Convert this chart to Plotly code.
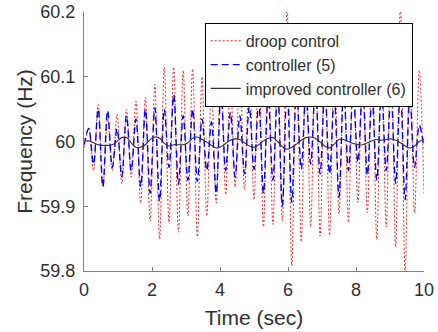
import numpy as np
import plotly.graph_objects as go

# sample times (s): alternating trough/peak samples of the oscillation
time_s = np.linspace(0, 10, 73)

droop_control = [
    59.990, 60.020, 59.955, 60.057, 59.930, 60.035, 59.955, 60.042, 59.935, 60.050,
    59.945, 60.062, 59.905, 60.068, 59.877, 60.088, 59.849, 60.115, 59.875, 60.115,
    59.860, 60.110, 59.885, 60.112, 59.853, 60.100, 59.885, 60.085, 59.905, 60.120,
    59.918, 60.100, 59.930, 60.110, 59.925, 60.120, 59.910, 60.130, 59.868, 60.140,
    59.872, 60.130, 59.877, 60.210, 59.808, 60.150, 59.845, 60.140, 59.868, 60.150,
    59.854, 60.140, 59.855, 60.130, 59.888, 60.120, 59.875, 60.130, 59.906, 60.120,
    59.890, 60.140, 59.849, 60.150, 59.868, 60.160, 59.837, 60.210, 59.795, 60.140,
    59.890, 60.110, 59.920,
]

controller_5 = [
    59.995, 60.020, 59.965, 60.050, 59.930, 60.048, 59.960, 60.020, 59.946, 60.040,
    59.955, 60.035, 59.930, 60.050, 59.920, 60.052, 59.908, 60.050, 59.960, 60.072,
    59.934, 60.040, 59.940, 60.050, 59.938, 60.035, 59.955, 60.030, 59.920, 60.077,
    59.955, 60.045, 59.945, 60.040, 59.950, 60.054, 59.957, 60.060, 59.920, 60.070,
    59.940, 60.080, 59.900, 60.085, 59.906, 60.080, 59.957, 60.075, 59.965, 60.085,
    59.950, 60.080, 59.950, 60.070, 59.914, 60.080, 59.955, 60.075, 59.968, 60.085,
    59.948, 60.070, 59.940, 60.080, 59.955, 60.075, 59.935, 60.080, 59.910, 60.070,
    59.960, 60.025, 59.990,
]

improved_controller_6 = [
    60.000, 60.001, 59.998, 59.995, 59.994, 59.994, 59.995, 60.000, 60.006, 60.006,
    59.998, 59.991, 59.991, 59.995, 60.003, 60.007, 60.005, 59.997, 59.993, 59.995,
    59.995, 59.995, 59.998, 60.005, 60.007, 60.003, 59.999, 59.994, 59.990, 59.992,
    59.997, 60.002, 60.004, 60.003, 59.998, 59.993, 59.991, 59.995, 60.001, 60.005,
    60.006, 60.000, 59.992, 59.988, 59.991, 59.996, 60.002, 60.006, 60.007, 60.005,
    59.999, 59.993, 59.990, 59.996, 60.003, 60.003, 60.000, 59.997, 59.995, 59.995,
    59.998, 60.001, 60.003, 60.002, 60.003, 60.004, 60.002, 59.998, 59.993, 59.990,
    59.993, 60.000, 60.004,
]

series_names = ["droop control", "controller (5)", "improved controller (6)"]
x_ticks = [0, 2, 4, 6, 8, 10]
y_ticks = [59.8, 59.9, 60.0, 60.1, 60.2]
y_tick_text = ["59.8", "59.9", "60", "60.1", "60.2"]

FONT = "Liberation Sans, Arial, sans-serif"
TXT = "#303030"

fig = go.Figure()
fig.add_trace(go.Scatter(
    x=time_s, y=droop_control, mode="lines", name=series_names[0],
    line=dict(color="#ff2020", width=1, dash="2px,2px", shape="spline"),
))
fig.add_trace(go.Scatter(
    x=time_s, y=controller_5, mode="lines", name=series_names[1],
    line=dict(color="#0000ff", width=1.4, dash="7px,4px", shape="spline"),
))
fig.add_trace(go.Scatter(
    x=time_s, y=improved_controller_6, mode="lines", name=series_names[2],
    line=dict(color="#303030", width=1.1, shape="spline"),
))

fig.update_layout(
    width=438, height=332,
    margin=dict(l=84, r=14, t=12, b=61, autoexpand=False),
    paper_bgcolor="white", plot_bgcolor="white",
    font=dict(family=FONT, color=TXT, size=18),
    showlegend=True,
    legend=dict(
        x=0.355, y=0.958, xanchor="left", yanchor="top",
        bgcolor="white", bordercolor="#000000", borderwidth=1,
        font=dict(family=FONT, size=16, color=TXT),
        itemwidth=30, tracegroupgap=0,
    ),
    xaxis=dict(
        range=[0, 10], tickvals=x_ticks, ticktext=[str(v) for v in x_ticks],
        ticks="inside", ticklen=4, tickcolor="#808080",
        showline=True, linecolor="#808080", linewidth=1,
        showgrid=False, zeroline=False, mirror=False, automargin=False,
        tickfont=dict(size=18, color=TXT), ticklabelstandoff=2,
        title=dict(text="Time (sec)", font=dict(size=21, color=TXT), standoff=11),
    ),
    yaxis=dict(
        range=[59.8, 60.2], tickvals=y_ticks, ticktext=y_tick_text,
        ticks="inside", ticklen=4, tickcolor="#808080",
        showline=True, linecolor="#808080", linewidth=1,
        showgrid=False, zeroline=False, mirror=False, automargin=False,
        tickfont=dict(size=18, color=TXT), ticklabelstandoff=4,
        title=dict(text="Frequency (Hz)", font=dict(size=21, color=TXT), standoff=2),
    ),
)

# remove the page's default 8px body margin so the figure sits at the top-left corner
fig.write_html(
    "out.html",
    config={"displayModeBar": False},
    post_script="document.body.style.margin='0px';",
)
